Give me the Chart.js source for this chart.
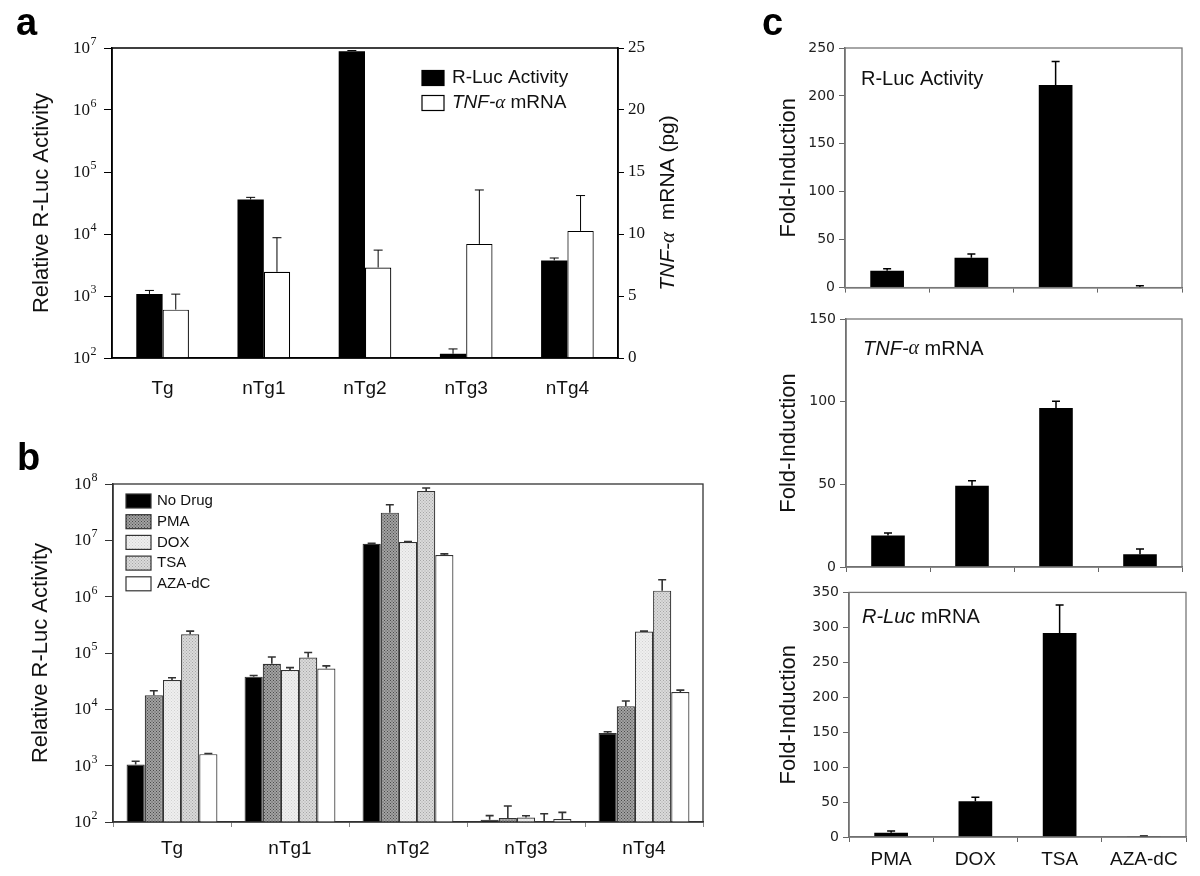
<!DOCTYPE html>
<html>
<head>
<meta charset="utf-8">
<script src="https://cdn.jsdelivr.net/npm/chart.js@4.4.0/dist/chart.umd.min.js"></script>
<style>
  body { margin: 0; background: #fff; }
  #fig { position: relative; width: 1200px; height: 876px; overflow: hidden; background: #fff; }
  #fig canvas { position: absolute; }
</style>
</head>
<body>
<div id="fig">
  <canvas id="chartA" width="720" height="420" style="left:0px;top:0px"></canvas>
  <canvas id="chartB" width="720" height="436" style="left:0px;top:440px"></canvas>
  <canvas id="chartC1" width="460" height="300" style="left:740px;top:0px"></canvas>
  <canvas id="chartC2" width="460" height="280" style="left:740px;top:300px"></canvas>
  <canvas id="chartC3" width="460" height="296" style="left:740px;top:580px"></canvas>
</div>
<script>
// ---- data ----
const groups = ['Tg', 'nTg1', 'nTg2', 'nTg3', 'nTg4'];

// panel a
const aRlucActivity = [1080, 36000, 8.9e6, 117, 3750];
const aRlucErrTop   = [1230, 39000, 9.1e6, 140, 4100];
const aTnfMrna      = [3.9, 6.95, 7.3, 9.2, 10.25];
const aTnfErrTop    = [5.15, 9.7, 8.7, 13.55, 13.1];
const aLogTicks     = [1e2, 1e3, 1e4, 1e5, 1e6, 1e7];

// panel b
const drugs = ['No Drug', 'PMA', 'DOX', 'TSA', 'AZA-dC'];
const bNoDrug       = [1050, 38000, 8.7e6, 110, 3800];
const bNoDrugErrTop = [1200, 39800, 8.9e6, 130, 4000];
const bPma          = [17800, 64500, 3.1e7, 118, 11400];
const bPmaErrTop    = [21400, 85000, 4.27e7, 192, 14100];
const bDox          = [33000, 50000, 9.3e6, 120, 240000];
const bDoxErrTop    = [36300, 55000, 9.5e6, 129, 245000];
const bTsa          = [215000, 83000, 7.5e7, 101, 1.28e6];
const bTsaErrTop    = [245000, 102000, 8.5e7, 140, 2.0e6];
const bAza          = [1600, 53000, 5.5e6, 113, 20300];
const bAzaErrTop    = [1640, 59000, 5.75e6, 148, 21900];
const bLogTicks     = [1e2, 1e3, 1e4, 1e5, 1e6, 1e7, 1e8];

// panel c
const treatments = ['PMA', 'DOX', 'TSA', 'AZA-dC'];
const cRlucActivity = [17.6, 31.1, 211.5, 0.7];
const cRlucActErr   = [19.6, 35.1, 236, 2];
const cTnfMrna      = [19.0, 49.1, 96.2, 7.7];
const cTnfMrnaErr   = [20.6, 52.1, 100.2, 10.9];
const cRlucMrna     = [6.1, 51, 292, 0.5];
const cRlucMrnaErr  = [8.5, 56.8, 332, 1.4];

const SANS = '"Liberation Sans", Arial, sans-serif';
const SERIF = '"Liberation Serif", "Times New Roman", serif';
const VERD = '"DejaVu Sans", Verdana, sans-serif';

// ---- helpers ----
function drawRich(ctx, parts, x, y, size, align) {
  const fontOf = p => (p.i ? 'italic ' : '') + size + 'px ' + (p.serif ? SERIF : SANS);
  let w = 0;
  parts.forEach(p => { ctx.font = fontOf(p); w += ctx.measureText(p.t).width; });
  let cx = align === 'center' ? x - w / 2 : x;
  ctx.textAlign = 'left';
  ctx.textBaseline = 'middle';
  parts.forEach(p => {
    ctx.font = fontOf(p);
    ctx.fillText(p.t, cx, y);
    cx += ctx.measureText(p.t).width;
  });
}

function stipple(canvasId, base, dot, step) {
  const c = document.createElement('canvas');
  c.width = c.height = step;
  const g = c.getContext('2d');
  g.fillStyle = base;
  g.fillRect(0, 0, step, step);
  g.fillStyle = dot;
  g.fillRect(0, 0, 1, 1);
  g.fillRect(step / 2, step / 2, 1, 1);
  return document.getElementById(canvasId).getContext('2d').createPattern(c, 'repeat');
}

// error bars, frame, log labels, titles, legends, panel letter
function figureExtras(cfg) {
  return {
    id: 'figureExtras',
    afterDatasetsDraw(chart) {
      const ctx = chart.ctx;
      (cfg.errors || []).forEach(e => {
        const meta = chart.getDatasetMeta(e.dataset);
        const scale = chart.scales[meta.yAxisID];
        ctx.save();
        ctx.strokeStyle = e.color;
        ctx.lineWidth = e.width;
        meta.data.forEach((bar, i) => {
          const top = scale.getPixelForValue(e.top[i]);
          ctx.beginPath();
          ctx.moveTo(bar.x, bar.y);
          ctx.lineTo(bar.x, top);
          ctx.moveTo(bar.x - e.cap / 2, top);
          ctx.lineTo(bar.x + e.cap / 2, top);
          ctx.stroke();
        });
        ctx.restore();
      });
    },
    afterDraw(chart) {
      const ctx = chart.ctx;
      const area = chart.chartArea;
      ctx.save();
      // frame
      if (cfg.frame) {
        ctx.strokeStyle = cfg.frame.color;
        ctx.lineWidth = cfg.frame.width;
        ctx.strokeRect(area.left, area.top, area.right - area.left, area.bottom - area.top);
      }
      ctx.fillStyle = '#111';
      // log tick labels with superscripts
      if (cfg.logAxis) {
        const s = chart.scales[cfg.logAxis];
        ctx.textAlign = 'left';
        ctx.textBaseline = 'alphabetic';
        cfg.logTicks.forEach(v => {
          const y = s.getPixelForValue(v);
          const exp = String(Math.round(Math.log10(v)));
          ctx.font = '17px ' + SERIF;
          const w1 = ctx.measureText('10').width;
          ctx.font = '12px ' + SERIF;
          const w2 = ctx.measureText(exp).width;
          const x0 = s.right - 16 - w1 - w2;
          ctx.font = '17px ' + SERIF;
          ctx.fillText('10', x0, y + 5);
          ctx.font = '12px ' + SERIF;
          ctx.fillText(exp, x0 + w1 + 0.5, y - 3);
        });
      }
      // titles and inner labels
      (cfg.titles || []).forEach(t => {
        const y = t.y === 'mid' ? (area.top + area.bottom) / 2 : t.y;
        ctx.save();
        ctx.translate(t.x, y);
        if (t.rotate) ctx.rotate(-Math.PI / 2);
        drawRich(ctx, t.parts, 0, 0, t.size, t.rotate ? 'center' : 'left');
        ctx.restore();
      });
      // legend
      if (cfg.legend) {
        const L = cfg.legend;
        L.items.forEach((item, k) => {
          const cy = L.y + k * L.rowH;
          const ds = chart.data.datasets[k];
          ctx.fillStyle = ds.backgroundColor;
          ctx.fillRect(L.x, cy - L.boxH / 2, L.boxW, L.boxH);
          ctx.strokeStyle = L.stroke;
          ctx.lineWidth = 1.2;
          ctx.strokeRect(L.x, cy - L.boxH / 2, L.boxW, L.boxH);
          ctx.fillStyle = '#111';
          drawRich(ctx, item, L.x + L.boxW + L.gap, cy, L.size, 'left');
        });
      }
      // panel letter
      if (cfg.letter) {
        ctx.fillStyle = '#000';
        ctx.font = 'bold 38px ' + SANS;
        ctx.textAlign = 'left';
        ctx.textBaseline = 'alphabetic';
        ctx.fillText(cfg.letter.t, cfg.letter.x, cfg.letter.y);
      }
      ctx.restore();
    }
  };
}

const tnfParts = [{ t: 'TNF-', i: true }, { t: 'α', i: true, serif: true }];

// ---- panel a ----
new Chart(document.getElementById('chartA'), {
  type: 'bar',
  data: {
    labels: groups,
    datasets: [{
      label: 'R-Luc Activity',
      data: aRlucActivity,
      yAxisID: 'y',
      backgroundColor: '#000',
      borderWidth: 0
    }, {
      label: 'TNF-α mRNA',
      data: aTnfMrna,
      yAxisID: 'y1',
      backgroundColor: '#fff',
      borderColor: '#000',
      borderWidth: 1.2
    }]
  },
  options: {
    responsive: false,
    animation: false,
    layout: { padding: { top: 48, left: 0, right: 0, bottom: 0 } },
    datasets: { bar: { categoryPercentage: 0.52, barPercentage: 1 } },
    plugins: { legend: { display: false }, tooltip: { enabled: false } },
    scales: {
      x: {
        grid: { display: false },
        border: { color: '#000', width: 1.5 },
        ticks: { color: '#111', font: { family: SANS, size: 19 }, padding: 11 },
        afterFit(s) { s.height = 62; }
      },
      y: {
        type: 'logarithmic',
        position: 'left',
        min: 100,
        max: 1e7,
        afterBuildTicks(s) { s.ticks = aLogTicks.map(v => ({ value: v })); },
        ticks: { display: false },
        grid: { drawOnChartArea: false, tickLength: 8, color: '#000' },
        border: { color: '#000', width: 1.5 },
        afterFit(s) { s.width = 112; }
      },
      y1: {
        type: 'linear',
        position: 'right',
        min: 0,
        max: 25,
        ticks: { stepSize: 5, color: '#111', font: { family: SERIF, size: 17 }, padding: 4 },
        grid: { drawOnChartArea: false, tickLength: 6, color: '#000' },
        border: { color: '#000', width: 1.5 },
        afterFit(s) { s.width = 102; }
      }
    }
  },
  plugins: [figureExtras({
    errors: [
      { dataset: 0, top: aRlucErrTop, color: '#000', width: 1, cap: 9 },
      { dataset: 1, top: aTnfErrTop, color: '#000', width: 1, cap: 9 }
    ],
    frame: { color: '#000', width: 1.5 },
    logAxis: 'y',
    logTicks: aLogTicks,
    titles: [
      { parts: [{ t: 'Relative R-Luc Activity' }], x: 42, y: 'mid', size: 22, rotate: true },
      { parts: tnfParts.concat([{ t: '  mRNA (pg)' }]), x: 668, y: 'mid', size: 21, rotate: true }
    ],
    legend: {
      x: 422, y: 78, rowH: 25, boxW: 22, boxH: 15, gap: 8, size: 19, stroke: '#000',
      items: [[{ t: 'R-Luc Activity' }], tnfParts.concat([{ t: ' mRNA' }])]
    },
    letter: { t: 'a', x: 16, y: 35 }
  })]
});

// ---- panel b ----
const bFills = [
  '#000',
  stipple('chartB', '#a2a2a2', '#4a4a4a', 3),
  stipple('chartB', '#efefef', '#d2d2d2', 3),
  stipple('chartB', '#dadada', '#a6a6a6', 3),
  '#fff'
];
const bSeries = [bNoDrug, bPma, bDox, bTsa, bAza];
const bErrs = [bNoDrugErrTop, bPmaErrTop, bDoxErrTop, bTsaErrTop, bAzaErrTop];

new Chart(document.getElementById('chartB'), {
  type: 'bar',
  data: {
    labels: groups,
    datasets: drugs.map((d, k) => ({
      label: d,
      data: bSeries[k],
      backgroundColor: bFills[k],
      borderColor: '#333',
      borderWidth: 1.2
    }))
  },
  options: {
    responsive: false,
    animation: false,
    layout: { padding: { top: 44, left: 0, right: 17, bottom: 0 } },
    datasets: { bar: { categoryPercentage: 0.77, barPercentage: 1 } },
    plugins: { legend: { display: false }, tooltip: { enabled: false } },
    scales: {
      x: {
        grid: { drawOnChartArea: false, tickLength: 5, color: '#888' },
        border: { color: '#333', width: 1.5 },
        ticks: { color: '#111', font: { family: SANS, size: 19 }, padding: 10 },
        afterFit(s) { s.height = 54; }
      },
      y: {
        type: 'logarithmic',
        min: 100,
        max: 1e8,
        afterBuildTicks(s) { s.ticks = bLogTicks.map(v => ({ value: v })); },
        ticks: { display: false },
        grid: { drawOnChartArea: false, tickLength: 8, color: '#333' },
        border: { color: '#333', width: 1.5 },
        afterFit(s) { s.width = 113; }
      }
    }
  },
  plugins: [figureExtras({
    errors: bErrs.map((e, k) => ({ dataset: k, top: e, color: '#333', width: 1.6, cap: 8 })),
    frame: { color: '#333', width: 1.3 },
    logAxis: 'y',
    logTicks: bLogTicks,
    titles: [
      { parts: [{ t: 'Relative R-Luc Activity' }], x: 41, y: 'mid', size: 22, rotate: true }
    ],
    legend: {
      x: 126, y: 61, rowH: 20.7, boxW: 25, boxH: 14, gap: 6, size: 15, stroke: '#333',
      items: drugs.map(d => [{ t: d }])
    },
    letter: { t: 'b', x: 17, y: 30 }
  })]
});

// ---- panel c ----
function foldChart(id, values, errTop, yMax, opt) {
  return new Chart(document.getElementById(id), {
    type: 'bar',
    data: {
      labels: treatments,
      datasets: [{ data: values, backgroundColor: '#000', borderWidth: 0 }]
    },
    options: {
      responsive: false,
      animation: false,
      layout: { padding: { top: opt.top, left: 0, right: opt.right, bottom: 0 } },
      datasets: { bar: { categoryPercentage: 0.4, barPercentage: 1 } },
      plugins: { legend: { display: false }, tooltip: { enabled: false } },
      scales: {
        x: {
          grid: { drawOnChartArea: false, tickLength: 5, color: '#666' },
          border: { color: '#666', width: 1.5 },
          ticks: { display: opt.showLabels, color: '#111', font: { family: SANS, size: 19 }, padding: 6 },
          afterFit(s) { s.height = opt.xHeight; }
        },
        y: {
          min: 0,
          max: yMax,
          ticks: { stepSize: 50, color: '#222', font: { family: VERD, size: 14 }, padding: 4 },
          grid: { drawOnChartArea: false, tickLength: 6, color: '#666' },
          border: { color: '#666', width: 1.5 },
          afterFit(s) { s.width = opt.yWidth; }
        }
      }
    },
    plugins: [figureExtras({
      errors: [{ dataset: 0, top: errTop, color: '#000', width: 1.5, cap: 8 }],
      frame: { color: '#777', width: 1.3 },
      titles: [
        { parts: [{ t: 'Fold-Induction' }], x: 49, y: 'mid', size: 22, rotate: true },
        { parts: opt.label, x: opt.labelX, y: opt.labelY, size: 20 }
      ],
      letter: opt.letter
    })]
  });
}

foldChart('chartC1', cRlucActivity, cRlucActErr, 250, {
  top: 48, right: 18, xHeight: 5, yWidth: 105, showLabels: false,
  label: [{ t: 'R-Luc Activity' }], labelX: 121, labelY: 79,
  letter: { t: 'c', x: 22, y: 35 }
});
foldChart('chartC2', cTnfMrna, cTnfMrnaErr, 150, {
  top: 19, right: 18, xHeight: 13, yWidth: 106, showLabels: false,
  label: tnfParts.concat([{ t: ' mRNA' }]), labelX: 123, labelY: 49
});
foldChart('chartC3', cRlucMrna, cRlucMrnaErr, 350, {
  top: 10, right: 14, xHeight: 39, yWidth: 109, showLabels: true,
  label: [{ t: 'R-Luc', i: true }, { t: ' mRNA' }], labelX: 122, labelY: 37
});
</script>
</body>
</html>
